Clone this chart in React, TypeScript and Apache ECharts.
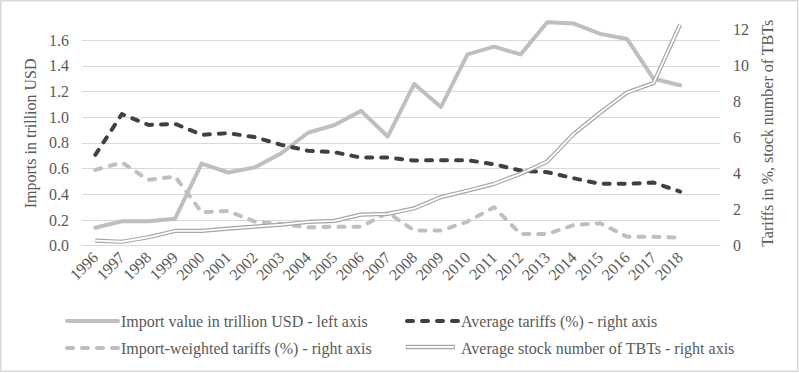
import React, { useEffect, useRef } from 'react';
import * as echarts from 'echarts';

const years = ['1996', '1997', '1998', '1999', '2000', '2001', '2002', '2003', '2004', '2005', '2006', '2007', '2008', '2009', '2010', '2011', '2012', '2013', '2014', '2015', '2016', '2017', '2018', ''];
const importValue = [0.14, 0.19, 0.19, 0.21, 0.64, 0.57, 0.61, 0.72, 0.88, 0.94, 1.05, 0.85, 1.26, 1.08, 1.49, 1.55, 1.49, 1.74, 1.73, 1.65, 1.61, 1.3, 1.25];
const avgTariffs = [5.05, 7.32, 6.72, 6.78, 6.17, 6.26, 6.04, 5.61, 5.28, 5.2, 4.9, 4.9, 4.74, 4.76, 4.76, 4.53, 4.18, 4.09, 3.75, 3.44, 3.44, 3.51, 3.01];
const weightedTariffs = [4.22, 4.63, 3.66, 3.85, 1.86, 1.93, 1.34, 1.21, 1.02, 1.06, 1.06, 1.84, 0.84, 0.84, 1.34, 2.14, 0.65, 0.65, 1.15, 1.25, 0.5, 0.5, 0.45];
const tbtStock = [0.28, 0.22, 0.47, 0.82, 0.82, 0.95, 1.06, 1.17, 1.32, 1.38, 1.73, 1.77, 2.08, 2.7, 3.06, 3.44, 4.0, 4.68, 6.22, 7.41, 8.52, 9.05, 12.3];

const seriesNames = [
  'Import value in trillion USD - left axis',
  'Average tariffs (%) - right axis',
  'Import-weighted tariffs (%) - right axis',
  'Average stock number of TBTs - right axis',
];
const leftAxisName = 'Imports in trillion USD';
const rightAxisName = 'Tariffs in %, stock number of TBTs';

const FONT = "'Liberation Serif', 'DejaVu Serif', serif";
const TXT = '#595959';

export default function App() {
  const ref = useRef<HTMLDivElement>(null);
  useEffect(() => {
    document.body.style.margin = '0';
    const chart = echarts.init(ref.current!, null, { renderer: 'svg' });
    const legendPos = [
      { left: 65, top: 313 },
      { left: 405, top: 313 },
      { left: 65, top: 340 },
      { left: 405, top: 340 },
    ];
    const legendLine = [
      { width: 4, cap: 'round' },
      { width: 4, type: [6, 9], cap: 'round' },
      { width: 4, type: [6, 9], cap: 'round' },
      { width: 4, opacity: 0 },
    ];
    const legendCommon = {
      padding: 0,
      itemWidth: 51,
      itemHeight: 14,
      itemGap: 4,
      itemStyle: { opacity: 0 },
      textStyle: { fontFamily: FONT, fontSize: 16, color: TXT, padding: [0, 0, 0, -2] },
      selectedMode: false,
    };
    const iconY = legendPos[3].top + 7;
    chart.setOption({
      animation: false,
      textStyle: { fontFamily: FONT },
      graphic: [
        {
          type: 'rect',
          shape: { x: 0.75, y: 0.75, width: 797, height: 370.5 },
          style: { fill: 'none', stroke: '#d9d9d9', lineWidth: 1.5 },
          silent: true,
        },
        {
          type: 'line',
          shape: { x1: 406, y1: iconY, x2: 455, y2: iconY },
          style: { stroke: '#a6a6a6', lineWidth: 4.4 },
          z: 199,
          silent: true,
        },
        {
          type: 'line',
          shape: { x1: 406.8, y1: iconY, x2: 454.2, y2: iconY },
          style: { stroke: '#ffffff', lineWidth: 2 },
          z: 200,
          silent: true,
        },
      ],
      legend: seriesNames.map((n, i) => ({ ...legendCommon, ...legendPos[i], lineStyle: legendLine[i], data: [n] })),
      grid: { left: 82, right: 79, top: 21, bottom: 127.3, containLabel: false },
      xAxis: {
        type: 'category',
        data: years,
        boundaryGap: true,
        axisTick: { show: false },
        axisLine: { lineStyle: { color: '#d9d9d9', width: 1 } },
        axisLabel: { rotate: 45, interval: 0, fontFamily: FONT, fontSize: 16, color: TXT, margin: 9 },
      },
      yAxis: [
        {
          type: 'value',
          min: 0,
          max: 1.75,
          interval: 0.2,
          name: leftAxisName,
          nameLocation: 'middle',
          nameRotate: 90,
          nameGap: 41,
          nameTextStyle: { fontFamily: FONT, fontSize: 16, color: TXT },
          axisLine: { show: false },
          axisTick: { show: false },
          axisLabel: {
            fontFamily: FONT,
            fontSize: 16,
            color: TXT,
            margin: 13,
            showMaxLabel: false,
            formatter: (v: number) => v.toFixed(1),
          },
          splitLine: { show: true, showMaxLine: false, lineStyle: { color: '#d9d9d9', width: 1 } },
        },
        {
          type: 'value',
          min: 0,
          max: 12.5,
          interval: 2,
          position: 'right',
          name: rightAxisName,
          nameLocation: 'middle',
          nameRotate: 90,
          nameGap: 24,
          nameTextStyle: { fontFamily: FONT, fontSize: 16, color: TXT },
          axisLine: { show: false },
          axisTick: { show: false },
          axisLabel: { fontFamily: FONT, fontSize: 16, color: TXT, margin: 13, showMaxLabel: false },
          splitLine: { show: false },
        },
      ],
      series: [
        {
          name: seriesNames[0],
          type: 'line',
          yAxisIndex: 0,
          data: importValue,
          symbol: 'none',
          clip: false,
          z: 2,
          lineStyle: { color: '#bfbfbf', width: 4, join: 'round', cap: 'round' },
          itemStyle: { color: '#bfbfbf' },
        },
        {
          name: seriesNames[1],
          type: 'line',
          yAxisIndex: 1,
          data: avgTariffs,
          symbol: 'none',
          clip: false,
          z: 3,
          lineStyle: { color: '#404040', width: 4, type: [6, 9], cap: 'round', join: 'round' },
          itemStyle: { color: '#404040' },
        },
        {
          name: seriesNames[2],
          type: 'line',
          yAxisIndex: 1,
          data: weightedTariffs,
          symbol: 'none',
          clip: false,
          z: 3,
          lineStyle: { color: '#bfbfbf', width: 4, type: [6, 9], cap: 'round', join: 'round' },
          itemStyle: { color: '#bfbfbf' },
        },
        {
          name: seriesNames[3],
          type: 'line',
          yAxisIndex: 1,
          data: tbtStock,
          symbol: 'none',
          clip: false,
          z: 4,
          lineStyle: { color: '#a6a6a6', width: 4.2, join: 'round' },
          itemStyle: { color: '#a6a6a6' },
        },
        {
          name: 'tbt-inner',
          type: 'line',
          yAxisIndex: 1,
          data: tbtStock,
          symbol: 'none',
          clip: false,
          z: 5,
          silent: true,
          lineStyle: { color: '#ffffff', width: 1.8, join: 'round' },
          itemStyle: { color: '#ffffff' },
        },
      ],
    });
    return () => chart.dispose();
  }, []);
  return <div ref={ref} style={{ width: 799, height: 373, background: '#fff' }} />;
}
